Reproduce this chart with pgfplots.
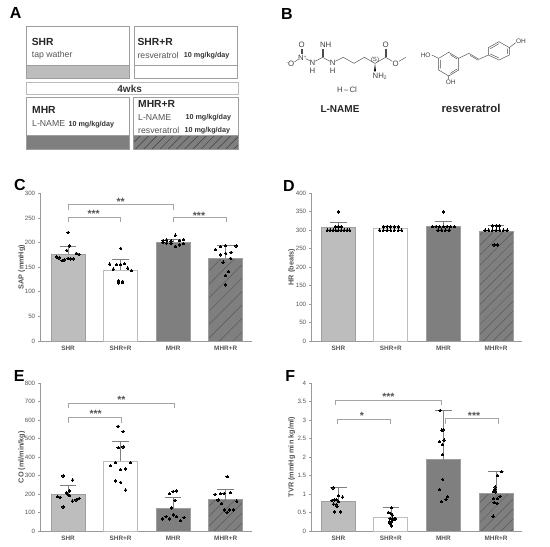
\documentclass[border=0pt]{standalone}
\usepackage{fontspec}
\setmainfont{Liberation Sans}
\usepackage{pgfplots}
\pgfplotsset{compat=1.18}
\usetikzlibrary{patterns.meta}
\definecolor{shr}{HTML}{BDBDBD}
\definecolor{mhr}{HTML}{7F7F7F}
\definecolor{edge}{HTML}{9E9E9E}
\definecolor{axisg}{HTML}{9A9A9A}
\definecolor{txtg}{HTML}{555555}
\definecolor{brk}{HTML}{A5A5A5}
\newcommand{\fs}[1]{\fontsize{#1}{#1}\selectfont}
\tikzset{stlab/.style={font=\fs{10.5}\bfseries,text=txtg,inner sep=0pt}}
\pgfplotsset{
  panel/.style={
    scale only axis, width=#1, clip=false,
    axis x line*=bottom, axis y line*=left,
    axis line style={color=axisg,line width=0.8pt},
    tick align=outside, major tick length=2.5pt,
    ytick style={color=axisg,line width=0.6pt},
    xtick style={draw=none},
    tick label style={text=txtg},
    yticklabel style={font=\fs{6.2}, xshift=0.5pt},
    xticklabel style={font=\fs{6.4}\bfseries, yshift=1pt},
    xticklabels={SHR,SHR+R,MHR,MHR+R},
    /pgf/number format/assume math mode=true,
    ymin=0,
  },
  errs/.style={
    error bars/y dir=plus, error bars/y explicit,
    error bars/error bar style={color=mhr,line width=0.6pt},
    error bars/error mark options={rotate=90,mark size=8.2pt,color=mhr,line width=0.6pt},
  },
  bbase/.style={ybar,bar width=34pt,bar shift=0pt,line width=0.8pt},
  bshr/.style={bbase,draw=edge,fill=shr,errs},
  bshrr/.style={bbase,draw=shr,fill=white,errs},
  bmhr/.style={bbase,draw=edge,fill=mhr,errs},
  bmhrr/.style 2 args={bbase,draw=edge,pattern={Lines[angle=45,distance=#2,line width=0.5pt]},pattern color=#1,preaction={fill=mhr},errs},
  pts/.style={only marks,mark=*,mark size=1.25pt,mark options={fill=black,draw=black,line width=0pt},color=black},
  brack/.style={no marks,sharp plot,color=brk,line width=0.7pt},
}
\begin{document}
\begin{tikzpicture}
\path[use as bounding box] (0,0) rectangle (550pt,547pt);

% ---------- Panel letters and panel A, coordinates in 3x pixels ----------
\begin{scope}[x=0.33333pt,y=-0.33333pt,shift={(0pt,547pt)}]
\node[font=\fs{16}\bfseries,text=black] at (47,38) {A};
\node[font=\fs{16}\bfseries,text=black] at (60,46+510) {C};
\node[font=\fs{16}\bfseries,text=black] at (58,48+1080) {E};
\node[font=\fs{16}\bfseries,text=black] at (825+36,42) {B};
\node[font=\fs{16}\bfseries,text=black] at (825+42,48+510) {D};
\node[font=\fs{16}\bfseries,text=black] at (825+46,48+1080) {F};

\fill[shr] (78,195) rectangle (389,235);
\fill[mhr] (78,407) rectangle (389,447);
\fill[mhr] (401,407) rectangle (716,447);
\path[pattern={Lines[angle=45,distance=5.8pt,line width=0.5pt]},pattern color=black!75] (401,407) rectangle (716,447);
\draw[color=edge,line width=0.7pt] (78,80) rectangle (389,235) (78,195)--(389,195);
\draw[color=edge,line width=0.7pt] (403,80) rectangle (712,235) (403,195)--(712,195);
\draw[color=edge!70,line width=0.7pt] (78,247) rectangle (716,283);
\draw[color=edge,line width=0.7pt] (78,292) rectangle (389,447) (78,407)--(389,407);
\draw[color=edge,line width=0.7pt] (401,292) rectangle (716,447) (401,407)--(716,407);

\node[anchor=west,inner sep=0pt,font=\fs{10.3}\bfseries,text=black!85] at (95,125) {SHR};
\node[anchor=west,inner sep=0pt,font=\fs{8.7},text=txtg] at (95,165) {tap wather};
\node[anchor=west,inner sep=0pt,font=\fs{10.3}\bfseries,text=black!85] at (412,125) {SHR+R};
\node[anchor=west,inner sep=0pt,font=\fs{8.7},text=txtg] at (412,166) {resveratrol};
\node[anchor=west,inner sep=0pt,font=\fs{7.2}\bfseries,text=black!80] at (551,167) {10 mg/kg/day};
\node[font=\fs{10}\bfseries,text=black!80] at (389,267) {4wks};
\node[anchor=west,inner sep=0pt,font=\fs{10.3}\bfseries,text=black!85] at (96,330) {MHR};
\node[anchor=west,inner sep=0pt,font=\fs{8.7},text=txtg] at (96,371) {L-NAME};
\node[anchor=west,inner sep=0pt,font=\fs{7.2}\bfseries,text=black!80] at (205,373) {10 mg/kg/day};
\node[anchor=west,inner sep=0pt,font=\fs{10.3}\bfseries,text=black!85] at (414,313) {MHR+R};
\node[anchor=west,inner sep=0pt,font=\fs{8.7},text=txtg] at (414,353) {L-NAME};
\node[anchor=west,inner sep=0pt,font=\fs{7.2}\bfseries,text=black!80] at (556,354) {10 mg/kg/day};
\node[anchor=west,inner sep=0pt,font=\fs{8.7},text=txtg] at (414,391) {resveratrol};
\node[anchor=west,inner sep=0pt,font=\fs{7.2}\bfseries,text=black!80] at (553,393) {10 mg/kg/day};
\end{scope}

% ---------- Panel B, coordinates in 3x pixels ----------
\begin{scope}[x=0.33333pt,y=-0.33333pt,shift={(275pt,547pt)},line width=0.45pt,color=black!70]
\def\lab#1#2{\node[font=\fs{7.8},text=black!75,inner sep=0pt] at (#1) {#2};}
% L-NAME
\draw (58,186)--(70,178) (92,176)--(104,182) (120,184)--(143,172)--(165,184) (181,184)--(205,172)--(237,190)--(268,172)--(300,190)--(332,172)--(352,184) (372,184)--(392,172);
\draw (141,172)--(141,146) (145,172)--(145,146);
\draw (78,162)--(78,146) (82,162)--(82,146);
\draw (330,172)--(330,146) (334,172)--(334,146);
\fill[black] (300,190)--(297,214)--(303,214)--cycle;
\lab{80,135}{O}\lab{82,172}{N\raisebox{2pt}{\fs{4.5}+}}\lab{46,190}{\raisebox{2pt}{\fs{4.5}-}O}
\lab{112,188}{N}\lab{112,212}{H}\lab{152,135}{NH}\lab{173,188}{N}\lab{173,212}{H}
\lab{300,180}{\fs{6}(S)}\lab{332,135}{O}\lab{362,190}{O}\lab{314,230}{NH\raisebox{-1pt}{\fs{5}2}}
\lab{216,270}{H\,--\,Cl}
\node[font=\fs{10}\bfseries,text=black!85] at (195,327) {L-NAME};
% resveratrol
\draw (521,157)--(551,175)--(551,210)--(521,228)--(491,210)--(491,175)--cycle;
\draw (526,164)--(546,177) (546,207)--(526,220) (496,205)--(496,180);
\draw (640,143)--(672,125)--(703,143)--(703,165)--(672,180)--(640,165)--cycle;
\draw (646,146)--(672,131) (698,146)--(698,162) (672,174)--(646,162);
\draw (551,175)--(582,160)--(612,178)--(640,165);
\draw (585,166)--(610,181);
\draw (491,175)--(470,165) (521,228)--(521,238) (703,143)--(722,128);
\node[font=\fs{6.5},text=black!75,inner sep=0pt] at (452,165) {HO};
\node[font=\fs{6.5},text=black!75,inner sep=0pt] at (527,246) {OH};
\node[font=\fs{6.5},text=black!75,inner sep=0pt] at (738,124) {OH};
\node[font=\fs{11.4}\bfseries,text=black!85] at (588,324) {resveratrol};
\end{scope}

% ---------- Panel C ----------
\begin{axis}[panel=211pt,at={(40.7pt,206pt)},anchor=origin,height=147.7pt,
  xmin=122,xmax=755,ymax=300,xtick={204,361.7,519.4,677},
  ytick={0,50,100,150,200,250,300},
  ylabel={SAP (mmHg)},
  ylabel style={at={(axis description cs:-0.09,0.5)},rotate=0,anchor=center,font=\fs{7.3}\bfseries,text=txtg}]
\addplot[bshr] coordinates {(204,176) +- (0,17)};
\addplot[bshrr] coordinates {(361.7,144) +- (0,21)};
\addplot[bmhr] coordinates {(519.4,201) +- (0,6)};
\addplot[bmhrr={mhr!70!black}{9.5pt}] coordinates {(677,168) +- (0,26)};
\addplot[pts] coordinates {(204,220)(208,193)(200,184)(229,178)(237,176)(170,171)(177,169)(186,163)(193,165)(204,168)(212,167)(220,167)};
\addplot[pts] coordinates {(362,188)(329,156)(340,146)(350,155)(362,155)(373,157)(383,148)(394,143)(356,122)(356,118)(368,121)(368,118.5)};
\addplot[pts] coordinates {(526,215)(489,204)(489,200)(500,205)(500,199)(513,203)(513,198)(526,192)(538,195)(538,204)(551,206)(551,198)};
\addplot[pts] coordinates {(677,194)(661,192)(646,186)(708,193)(677,178)(693,180)(661,175)(692,168)(669,160)(685,141)(677,133)(677,114)};
\addplot[brack] coordinates {(204,266)(204,277)(519,277)(519,266)};
\addplot[brack] coordinates {(204,241)(204,252)(362,252)(362,241)};
\addplot[brack] coordinates {(521,241)(521,252)(680,252)(680,241)};
\node[stlab] at (axis cs:362,283) {**};
\node[stlab] at (axis cs:281,258) {***};
\node[stlab] at (axis cs:597,255) {***};
\end{axis}

% ---------- Panel D ----------
\begin{axis}[panel=210.7pt,at={(311.7pt,206pt)},anchor=origin,height=147.7pt,
  xmin=110,xmax=742,ymax=400,xtick={190,347.5,505,663},
  ytick={0,50,100,150,200,250,300,350,400},
  ylabel={HR (beats)},
  ylabel style={at={(axis description cs:-0.095,0.5)},rotate=0,anchor=center,font=\fs{7.3}\bfseries,text=txtg}]
\addplot[bshr] coordinates {(190,307) +- (0,14)};
\addplot[bshrr] coordinates {(347.5,305) +- (0,6)};
\addplot[bmhr] coordinates {(505,310) +- (0,13)};
\addplot[bmhrr={black!65}{7pt}] coordinates {(663,296) +- (0,17)};
\addplot[pts] coordinates {(190,350)(181,310)(190,310)(199,310)(157,300)(165,300)(174,300)(182,300)(190,300)(199,300)(207,300)(216,300)(224,300)};
\addplot[pts] coordinates {(325,310)(336,310)(347,310)(358,310)(370,310)(314,300)(325,300)(336,300)(347,300)(358,300)(370,300)(380,300)};
\addplot[pts] coordinates {(505,350)(472,310)(483,310)(494,310)(505,310)(516,310)(527,310)(538,310)(489,300)(500,300)(511,300)(522,300)};
\addplot[pts] coordinates {(652,312)(663,312)(674,312)(630,300)(641,300)(652,300)(663,300)(674,300)(685,300)(696,300)(657,260)(668,260)};
\end{axis}

% ---------- Panel E ----------
\begin{axis}[panel=211pt,at={(40.7pt,16pt)},anchor=origin,height=147.7pt,
  xmin=122,xmax=755,ymax=800,xtick={204,361.7,519.4,677},
  ytick={0,100,200,300,400,500,600,700,800},
  ylabel={CO (ml/min/kg)},
  ylabel style={at={(axis description cs:-0.09,0.5)},rotate=0,anchor=center,font=\fs{7.3}\bfseries,text=txtg}]
\addplot[bshr] coordinates {(204,200) +- (0,47)};
\addplot[bshrr] coordinates {(361.7,379) +- (0,106)};
\addplot[bmhr] coordinates {(519.4,120) +- (0,63)};
\addplot[bmhrr={black!65}{7pt}] coordinates {(677,170) +- (0,55)};
\addplot[pts] coordinates {(189,298)(218,276)(208,217)(199,206)(203,199)(209,191)(172,186)(180,182)(217,162)(228,168)(237,175)(189,130)};
\addplot[pts] coordinates {(354,567)(369,538)(354,451)(369,455)(347,370)(392,370)(331,354)(362,332)(377,336)(347,271)(362,264)(377,222)};
\addplot[pts] coordinates {(509,202)(519,213)(530,217)(525,166)(514,125)(520,88)(530,78)(498,78)(487,65)(509,65)(541,56)(552,72)};
\addplot[pts] coordinates {(681,294)(645,199)(661,202)(672,202)(691,208)(654,168)(664,148)(710,162)(673,114)(689,114)(700,114)(681,101)};
\addplot[brack] coordinates {(205,664)(205,693)(522,693)(522,664)};
\addplot[brack] coordinates {(205,587)(205,614)(364,614)(364,587)};
\node[stlab] at (axis cs:364,710) {**};
\node[stlab] at (axis cs:287,632) {***};
\end{axis}

% ---------- Panel F ----------
\begin{axis}[panel=210.7pt,at={(311.7pt,16pt)},anchor=origin,height=147.7pt,
  xmin=110,xmax=742,ymax=4,xtick={190,347.5,505,663},
  ytick={0,0.5,1,1.5,2,2.5,3,3.5,4},
  yticklabels={0,0.5,1,1.5,2,2.5,3,3.5,4},
  ylabel={TVR (mmHg min kg/ml)},
  ylabel style={at={(axis description cs:-0.095,0.5)},rotate=0,anchor=center,font=\fs{7.3}\bfseries,text=txtg}]
\addplot[bshr] coordinates {(190,0.81) +- (0,0.37)};
\addplot[bshrr] coordinates {(347.5,0.37) +- (0,0.26)};
\addplot[bmhr] coordinates {(505,1.93) +- (0,1.34)};
\addplot[bmhrr={black!65}{7pt}] coordinates {(663,1.01) +- (0,0.60)};
\addplot[pts] coordinates {(174,1.17)(190,0.96)(203,0.92)(171,0.83)(184,0.85)(176,0.73)(183,0.71)(186,0.66)(178,0.52)(197,0.52)(190,0.8)(178,0.84)};
\addplot[pts] coordinates {(350,0.63)(340,0.5)(347,0.48)(352,0.43)(345,0.34)(352,0.32)(360,0.33)(343,0.25)(350,0.25)(358,0.32)(349,0.14)(345,0.2)};
\addplot[pts] coordinates {(495,3.26)(500,2.73)(504,2.74)(494,2.42)(507,2.46)(502,2.34)(503,2.07)(503,1.4)(494,1.12)(517,0.93)(513,0.86)(499,0.8)};
\addplot[pts] coordinates {(680,1.61)(667,1.5)(660,1.19)(660,1.13)(655,1.07)(662,1.06)(675,0.94)(655,0.88)(667,0.88)(657,0.77)(666,0.75)(654,0.4)};
\addplot[brack] coordinates {(182,3.4)(182,3.53)(498,3.53)(498,3.4)};
\addplot[brack] coordinates {(186,2.9)(186,3.03)(345,3.03)(345,2.9)};
\addplot[brack] coordinates {(512,2.9)(512,3.05)(670,3.05)(670,2.9)};
\node[stlab] at (axis cs:340,3.62) {***};
\node[stlab] at (axis cs:261,3.12) {*};
\node[stlab] at (axis cs:597,3.13) {***};
\end{axis}
\end{tikzpicture}
\end{document}
